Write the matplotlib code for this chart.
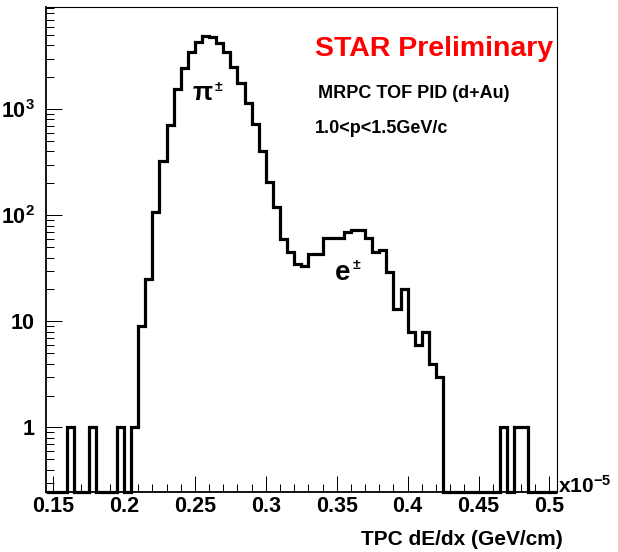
import numpy as np
import matplotlib
matplotlib.use('Agg')
import matplotlib.pyplot as plt
from matplotlib.ticker import MultipleLocator, FuncFormatter, LogLocator, NullFormatter

# binning do histograma (unidades de 1e-5 GeV/cm)
x_min, x_max, n_bins = 0.145, 0.505, 72

# contagens por bin
contagens = [0, 0, 0, 1, 0, 0, 1, 0, 0, 0,
             1, 0, 1, 9, 25, 108, 327, 710, 1540, 2430,
             3480, 4330, 4900, 4800, 4170, 3440, 2480, 1750, 1140, 725,
             404, 207, 120, 60, 45, 35, 33, 43, 43, 61,
             61, 61, 70, 73, 73, 61, 45, 47, 29, 13,
             20, 8, 6, 8, 4, 3, 0, 0, 0, 0,
             0, 0, 0, 0, 1, 0, 1, 1, 0, 0,
             0, 0]

y_ticks = [1, 10, 100, 1000]
y_tick_labels = ['1', '10', r'$\mathbf{10^{2}}$', r'$\mathbf{10^{3}}$']
y_lim = (0.248, 9190)

plt.rcParams['font.family'] = ['Liberation Sans', 'DejaVu Sans']
plt.rcParams['font.weight'] = 'bold'
plt.rcParams['mathtext.fontset'] = 'custom'
plt.rcParams['mathtext.rm'] = 'Liberation Sans:bold'
plt.rcParams['mathtext.bf'] = 'Liberation Sans:bold'
plt.rcParams['mathtext.it'] = 'Liberation Sans:bold'

W, H = 618, 552
fig = plt.figure(figsize=(W / 100, H / 100), dpi=100)
ax = fig.add_axes([46 / W, 1 - 491.7 / H, 510.5 / W, 484.7 / H])

edges = np.linspace(x_min, x_max, n_bins + 1)
contagens = np.array(contagens, dtype=float)
# bins vazios ficam desenhados em cima do eixo, como no ROOT
valores = np.where(contagens > 0, contagens, y_lim[0])
ax.stairs(valores, edges, baseline=None, color='black', lw=2.3, clip_on=False)

ax.set_yscale('log')
ax.set_xlim(x_min, x_max)
ax.set_ylim(*y_lim)

ax.xaxis.set_major_locator(MultipleLocator(0.05))
ax.xaxis.set_minor_locator(MultipleLocator(0.01))
ax.xaxis.set_major_formatter(FuncFormatter(lambda v, p: '%g' % round(v, 3)))

ax.set_yticks(y_ticks)
ax.set_yticklabels(y_tick_labels)
ax.yaxis.set_minor_locator(LogLocator(base=10, subs=np.arange(2, 10), numticks=20))
ax.yaxis.set_minor_formatter(NullFormatter())

ax.tick_params(which='both', direction='in', top=False, right=False, width=0.72)
ax.tick_params(which='major', length=11.3)
ax.tick_params(which='minor', length=6)
ax.tick_params(axis='x', which='major', labelsize=15.5, pad=3)
ax.tick_params(axis='y', which='major', labelsize=15.5, pad=8)
for lbl in ax.get_xticklabels() + ax.get_yticklabels():
    lbl.set_fontweight('bold')

ax.spines['left'].set_linewidth(1.3)
ax.spines['bottom'].set_linewidth(1.3)
ax.spines['top'].set_linewidth(0.8)
ax.spines['right'].set_linewidth(0.8)

# textos dentro do grafico
ax.text(0.527, 0.899, 'STAR Preliminary', color='red', fontsize=20.5,
        fontweight='bold', transform=ax.transAxes, ha='left', va='baseline')
ax.text(0.533, 0.812, 'MRPC TOF PID (d+Au)', fontsize=13, fontweight='bold',
        transform=ax.transAxes, ha='left', va='baseline')
ax.text(0.527, 0.741, '1.0<p<1.5GeV/c', fontsize=13, fontweight='bold',
        transform=ax.transAxes, ha='left', va='baseline')

ax.text(0.286, 0.808, '\u03c0', fontsize=19, fontweight='bold',
        transform=ax.transAxes, ha='left', va='baseline')
ax.text(0.330, 0.827, '\u00b1', fontsize=10, fontweight='bold',
        transform=ax.transAxes, ha='left', va='baseline')
ax.text(0.566, 0.437, 'e', fontsize=20, fontweight='bold',
        transform=ax.transAxes, ha='left', va='baseline')
ax.text(0.601, 0.459, '\u00b1', fontsize=10, fontweight='bold',
        transform=ax.transAxes, ha='left', va='baseline')

# titulo do eixo x e multiplicador
fig.text(563 / W, 1 - 545 / H, 'TPC dE/dx (GeV/cm)', fontsize=15,
         fontweight='bold', ha='right', va='baseline')
fig.text(558 / W, 1 - 493 / H, r'$\mathbf{x10^{-5}}$', fontsize=15,
         ha='left', va='baseline')

fig.savefig('out.png', dpi=100, facecolor='white')
